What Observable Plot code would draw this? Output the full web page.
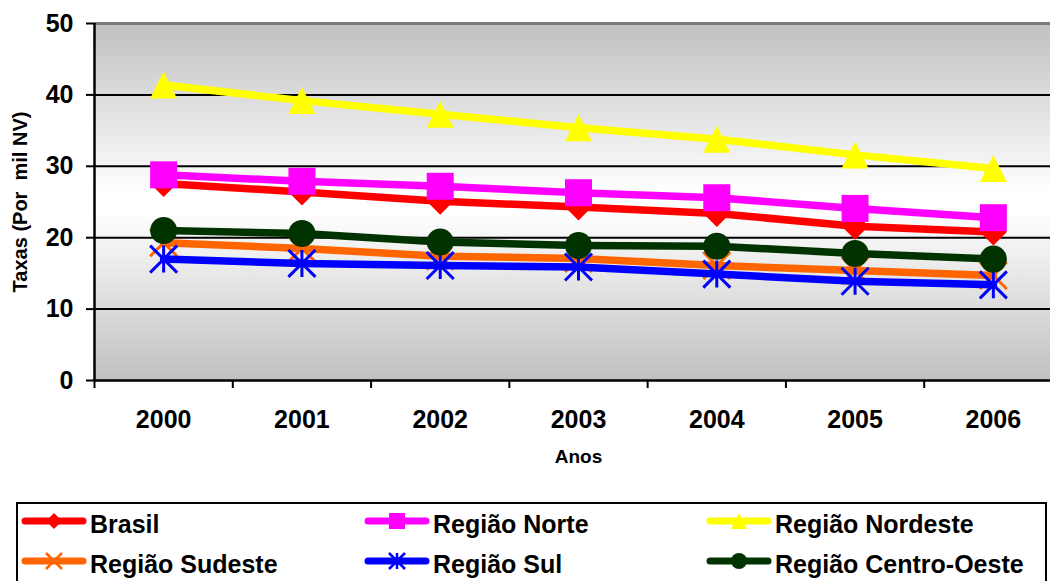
<!DOCTYPE html>
<html>
<head>
<meta charset="utf-8">
<script src="https://cdn.jsdelivr.net/npm/d3@7"></script>
<script src="https://cdn.jsdelivr.net/npm/@observablehq/plot@0.6"></script>
<style>
  html, body { margin: 0; padding: 0; background: #fff; overflow: hidden; width: 1050px; height: 581px; }
  #chart { position: absolute; left: 0; top: 0; width: 1070px; }
  #chart svg { max-width: none !important; width: 1070px !important; height: 490px !important; }
  #legend { position: absolute; left: 0; top: 500px; }
  text { font-family: Arial, "Liberation Sans", sans-serif; }
</style>
</head>
<body>
<div id="chart"></div>
<svg id="legend" width="1050" height="81"></svg>
<script>
// ---- data ----
const years = [2000, 2001, 2002, 2003, 2004, 2005, 2006];
const brasil      = [27.6, 26.4, 25.1, 24.3, 23.4, 21.6, 20.8];
const norte       = [28.8, 27.9, 27.2, 26.3, 25.6, 24.1, 22.8];
const nordeste    = [41.4, 39.2, 37.3, 35.4, 33.8, 31.6, 29.7];
const sudeste     = [19.3, 18.5, 17.4, 17.1, 16.1, 15.4, 14.7];
const sul         = [17.0, 16.4, 16.1, 15.9, 14.9, 13.9, 13.4];
const centroOeste = [21.0, 20.6, 19.4, 18.9, 18.8, 17.8, 17.0];
const seriesNames = ["Brasil", "Região Norte", "Região Nordeste", "Região Sudeste", "Região Sul", "Região Centro-Oeste"];
const yTicks = [0, 10, 20, 30, 40, 50];
const yLabel = "Taxas (Por  mil NV)";
const xLabel = "Anos";

// ---- symbols (r = half size) ----
const half = s => Math.sqrt(s / Math.PI);
const symDiamond = {draw(c, s) { const h = half(s); c.moveTo(0, -h); c.lineTo(h, 0); c.lineTo(0, h); c.lineTo(-h, 0); c.closePath(); }};
const symSquare = {draw(c, s) { const h = half(s); c.moveTo(-h, -h); c.lineTo(h, -h); c.lineTo(h, h); c.lineTo(-h, h); c.closePath(); }};
const symTriangle = {draw(c, s) { const h = half(s); c.moveTo(0, -h); c.lineTo(h, h); c.lineTo(-h, h); c.closePath(); }};
const symTimes = {draw(c, s) { const h = half(s); c.moveTo(-h, -h); c.lineTo(h, h); c.moveTo(h, -h); c.lineTo(-h, h); }};
const symAsterisk = {draw(c, s) { const h = half(s); c.moveTo(-h, -h); c.lineTo(h, h); c.moveTo(h, -h); c.lineTo(-h, h); c.moveTo(0, -h); c.lineTo(0, h); }};
const symCircle = {draw(c, s) { const h = half(s); c.moveTo(h, 0); c.arc(0, 0, h, 0, 2 * Math.PI); c.closePath(); }};

const series = [
  {name: seriesNames[0], values: brasil,      color: "#ff0000", symbol: symDiamond,  filled: true},
  {name: seriesNames[1], values: norte,       color: "#ff00ff", symbol: symSquare,   filled: true},
  {name: seriesNames[2], values: nordeste,    color: "#ffff00", symbol: symTriangle, filled: true},
  {name: seriesNames[3], values: sudeste,     color: "#ff6600", symbol: symTimes,    filled: false},
  {name: seriesNames[4], values: sul,         color: "#0000ff", symbol: symAsterisk, filled: false},
  {name: seriesNames[5], values: centroOeste, color: "#003300", symbol: symCircle,   filled: true}
];

const xDomain = [years[0] - 0.5, years[years.length - 1] + 0.5];
const boundaries = [xDomain[0], ...years.map(y => y + 0.5)];

// background gradient (render-only mark)
function background(index, scales, values, dim) {
  const ns = "http://www.w3.org/2000/svg";
  const g = document.createElementNS(ns, "g");
  const defs = document.createElementNS(ns, "defs");
  defs.innerHTML = `<linearGradient id="bgGrad" x1="0" y1="0" x2="0" y2="1">
    <stop offset="0" stop-color="#c0c0c0"/>
    <stop offset="0.47" stop-color="#ffffff"/>
    <stop offset="0.53" stop-color="#ffffff"/>
    <stop offset="1" stop-color="#c0c0c0"/></linearGradient>`;
  g.appendChild(defs);
  const r = document.createElementNS(ns, "rect");
  r.setAttribute("x", dim.marginLeft);
  r.setAttribute("y", dim.marginTop);
  r.setAttribute("width", dim.width - dim.marginLeft - dim.marginRight);
  r.setAttribute("height", dim.height - dim.marginTop - dim.marginBottom);
  r.setAttribute("fill", "url(#bgGrad)");
  g.appendChild(r);
  return g;
}

const marks = [
  background,
  Plot.ruleY(yTicks.filter(t => t > 0 && t < 50), {stroke: "#000", strokeWidth: 2}),
  Plot.ruleY([yTicks[yTicks.length - 1]], {stroke: "#7a7a7a", strokeWidth: 3}),
  Plot.ruleY([0], {stroke: "#000", strokeWidth: 2.5}),
  Plot.ruleX([xDomain[0]], {stroke: "#000", strokeWidth: 2.5}),
  Plot.axisY({ticks: yTicks, tickSize: 8, tickPadding: 13, fontSize: 25, fontWeight: "bold", label: null, strokeWidth: 2}),
  Plot.axisX({ticks: years, tickSize: 0, tickPadding: 30, tickFormat: d => String(d), fontSize: 25, fontWeight: "bold", label: null}),
  Plot.axisX({ticks: boundaries, tickSize: 8, tickFormat: () => "", label: null, strokeWidth: 2}),
  Plot.text([yLabel], {frameAnchor: "left", textAnchor: "middle", rotate: -90, dx: -74, fontSize: 20, fontWeight: "bold", fill: "#000"}),
  Plot.text([xLabel], {frameAnchor: "bottom", dy: 82, fontSize: 19, fontWeight: "bold", fill: "#000"})
];

for (const s of series) {
  const rows = years.map((yr, i) => ({year: yr, value: s.values[i]}));
  marks.push(Plot.line(rows, {x: "year", y: "value", stroke: s.color, strokeWidth: 7.5}));
  if (s.filled) {
    marks.push(Plot.dot(rows, {x: "year", y: "value", symbol: s.symbol, r: 13.5, fill: s.color, stroke: "none"}));
  } else {
    marks.push(Plot.dot(rows, {x: "year", y: "value", symbol: s.symbol, r: 13.5, fill: "none", stroke: s.color, strokeWidth: 3}));
  }
}

const chart = Plot.plot({
  width: 1070,
  height: 490,
  marginLeft: 94,
  marginRight: 8,
  marginTop: 23,
  marginBottom: 110,
  style: {fontFamily: 'Arial, "Liberation Sans", sans-serif', color: "#000", background: "transparent", overflow: "visible"},
  x: {type: "linear", domain: xDomain},
  y: {domain: [0, 50]},
  marks
});
document.getElementById("chart").appendChild(chart);

// ---- legend ----
const lg = d3.select("#legend");
lg.append("rect").attr("x", 17).attr("y", 3).attr("width", 1029).attr("height", 100)
  .attr("fill", "#fff").attr("stroke", "#000").attr("stroke-width", 2);
const colX = [22, 365, 707];
const rowY = [21, 61];
series.forEach((s, i) => {
  const x0 = colX[i % 3], y0 = rowY[Math.floor(i / 3)];
  const g = lg.append("g");
  g.append("line").attr("x1", x0 + 3).attr("x2", x0 + 61).attr("y1", y0).attr("y2", y0)
    .attr("stroke", s.color).attr("stroke-width", 7).attr("stroke-linecap", "round");
  const p = d3.path();
  s.symbol.draw(p, Math.PI * 8 * 8);
  const sym = g.append("path").attr("d", p.toString()).attr("transform", `translate(${x0 + 32},${y0})`);
  if (s.filled) sym.attr("fill", s.color);
  else sym.attr("fill", "none").attr("stroke", s.color).attr("stroke-width", 2.5);
  g.append("text").attr("x", x0 + 68).attr("y", y0 + 12)
    .attr("font-size", 25).attr("font-weight", "bold").attr("fill", "#000").text(s.name);
});
</script>
</body>
</html>
